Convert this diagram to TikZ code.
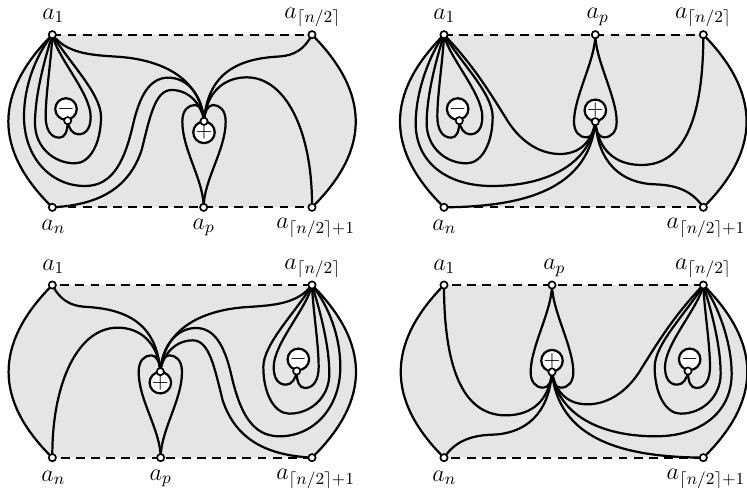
\RequirePackage{fix-cm}
\documentclass[tikz,border=0pt]{standalone}
\pgfdeclarelayer{bg}\pgfdeclarelayer{fillbg}
\pgfsetlayers{fillbg,bg,main}
\definecolor{regiongray}{HTML}{E3E5E7}
\tikzset{
  vtx/.style={circle,draw=black,fill=white,line width=0.9pt,minimum size=3.9pt,inner sep=0pt},
  bigc/.style={circle,draw=black,fill=white,line width=1.2pt,minimum size=11.6pt,inner sep=0pt},
  sign/.style={inner sep=0pt,font=\fontsize{12}{14}\selectfont},
  curve/.style={line width=1.2pt,black,line join=round},
  dashline/.style={line width=1.2pt,black,dash pattern=on 4.8pt off 3.4pt},
  lab/.style={inner sep=0pt,font=\fontsize{13}{15}\selectfont},
}
\newcommand\minusloops[2]{%
  \begin{scope}[shift={(#2,0)}]
    \node[bigc] (#1m) at (198,327) {};
    \node[sign] (#1ms) at (198,327) {$-$};
    \node[vtx] (#1mv) at (203,362) {};
  \end{scope}
  \begin{pgfonlayer}{bg}
  \begin{scope}[shift={(#2,0)}]
    \draw[curve] (#1a.center) .. controls (130,190) and (105,290) .. (105,370)
      .. controls (105,440) and (160,490) .. (225,490)
      .. controls (270,490) and (303,430) .. (303,350)
      .. controls (303,280) and (205,185) .. (#1a.center);
    \draw[curve] (#1a.center) .. controls (155,170) and (137,280) .. (137,350)
      .. controls (137,385) and (150,413) .. (178,413)
      .. controls (195,413) and (203,395) .. (#1mv.center);
    \draw[curve] (#1a.center) .. controls (170,170) and (272,280) .. (272,350)
      .. controls (272,385) and (258,403) .. (235,403)
      .. controls (218,403) and (205,385) .. (#1mv.center);
  \end{scope}
  \end{pgfonlayer}%
}
\newcommand\boundary[3]{%
  \begin{pgfonlayer}{fillbg}
    \fill[regiongray] (#1a.center) -- (#1t.center) .. controls (#3,280) and (#3,450) .. (#1r.center)
      -- (#1n.center) .. controls (#2,450) and (#2,280) .. (#1a.center);
  \end{pgfonlayer}
  \begin{pgfonlayer}{bg}
    \draw[curve] (#1t.center) .. controls (#3,280) and (#3,450) .. (#1r.center);
    \draw[curve] (#1n.center) .. controls (#2,450) and (#2,280) .. (#1a.center);
  \end{pgfonlayer}%
}
\newcommand\panelA[1]{%
  \node[vtx] (#1a) at (157,104) {};
  \node[vtx] (#1t) at (936,104) {};
  \node[vtx] (#1n) at (157,622) {};
  \node[vtx] (#1p) at (611,622) {};
  \node[vtx] (#1r) at (936,622) {};
  \node[bigc] (#1c) at (612,397) {};
  \node[sign] (#1cs) at (612,397) {$+$};
  \node[vtx] (#1j) at (612,364) {};
  \boundary{#1}{-19}{1111}
  \minusloops{#1}{0}
  \begin{pgfonlayer}{bg}
    \draw[dashline] (#1a.center) -- (#1t.center);
    \draw[dashline] (#1n.center) -- (#1p.center);
    \draw[dashline] (#1p.center) -- (#1r.center);
    \draw[curve] (#1a.center) .. controls (105,170) and (72,260) .. (72,350)
      .. controls (72,470) and (150,558) .. (255,558)
      .. controls (340,558) and (375,480) .. (400,370)
      .. controls (420,285) and (450,233) .. (505,233)
      .. controls (565,233) and (608,290) .. (#1j.center);
    \draw[curve] (#1n.center) .. controls (290,615) and (385,570) .. (425,450)
      .. controls (450,350) and (465,270) .. (515,270)
      .. controls (565,270) and (605,310) .. (#1j.center);
    \draw[curve] (#1a.center) .. controls (200,160) and (270,165) .. (350,170)
      .. controls (480,178) and (600,230) .. (#1j.center);
    \draw[curve] (#1t.center) .. controls (905,165) and (860,168) .. (830,170)
      .. controls (700,178) and (622,230) .. (#1j.center);
    \draw[curve] (#1r.center) .. controls (938,400) and (860,232) .. (740,232)
      .. controls (670,232) and (618,280) .. (#1j.center);
    \draw[curve] (#1p.center) .. controls (611,540) and (547,450) .. (547,365)
      .. controls (547,330) and (565,315) .. (585,315)
      .. controls (600,315) and (611,335) .. (#1j.center);
    \draw[curve] (#1p.center) .. controls (611,540) and (677,450) .. (677,365)
      .. controls (677,330) and (659,315) .. (639,315)
      .. controls (624,315) and (613,335) .. (#1j.center);
  \end{pgfonlayer}%
}
\newcommand\panelB[1]{%
  \node[vtx] (#1a) at (207,104) {};
  \node[vtx] (#1p) at (661,104) {};
  \node[vtx] (#1t) at (985,104) {};
  \node[vtx] (#1n) at (207,622) {};
  \node[vtx] (#1r) at (985,622) {};
  \node[bigc] (#1c) at (661,331) {};
  \node[sign] (#1cs) at (661,331) {$+$};
  \node[vtx] (#1j) at (661,365) {};
  \boundary{#1}{31}{1158}
  \minusloops{#1}{50}
  \begin{pgfonlayer}{bg}
    \draw[dashline] (#1a.center) -- (#1p.center);
    \draw[dashline] (#1p.center) -- (#1t.center);
    \draw[dashline] (#1n.center) -- (#1r.center);
    \draw[curve] (#1p.center) .. controls (661,180) and (597,290) .. (597,365)
      .. controls (597,395) and (612,412) .. (635,412)
      .. controls (650,412) and (661,395) .. (#1j.center);
    \draw[curve] (#1p.center) .. controls (661,180) and (725,290) .. (725,365)
      .. controls (725,395) and (710,412) .. (687,412)
      .. controls (672,412) and (661,395) .. (#1j.center);
    \draw[curve] (#1t.center) .. controls (985,300) and (950,495) .. (800,495)
      .. controls (720,495) and (670,450) .. (#1j.center);
    \draw[curve] (#1r.center) .. controls (950,570) and (900,555) .. (840,553)
      .. controls (740,550) and (670,490) .. (#1j.center);
    \draw[curve] (#1a.center) .. controls (290,190) and (340,270) .. (390,350)
      .. controls (430,420) and (490,462) .. (555,462)
      .. controls (610,462) and (650,430) .. (#1j.center);
    \draw[curve] (#1a.center) .. controls (160,170) and (122,280) .. (122,370)
      .. controls (122,490) and (220,558) .. (350,558)
      .. controls (520,558) and (645,490) .. (#1j.center);
    \draw[curve] (#1n.center) .. controls (400,620) and (640,590) .. (#1j.center);
  \end{pgfonlayer}%
}
\begin{document}
\begin{tikzpicture}[x=0.18pt,y=-0.18pt]
\useasboundingbox (0,0) rectangle (2241,1470);
\begin{scope}\panelA{A}\end{scope}
\begin{scope}[shift={(1125,0)}]\panelB{B}\end{scope}
\begin{scope}[shift={(1093,751)},xscale=-1]\panelA{C}\end{scope}
\begin{scope}[shift={(2317,751)},xscale=-1]\panelB{D}\end{scope}
\node[lab] (l1) at (160,47) {$a_1$};
\node[lab] (l2) at (938,52) {$a_{\lceil n/2\rceil}$};
\node[lab] (l3) at (160,680) {$a_n$};
\node[lab] (l4) at (611,682) {$a_p$};
\node[lab] (l5) at (947,684) {$a_{\lceil n/2\rceil+1}$};
\node[lab] (l6) at (1333,47) {$a_1$};
\node[lab] (l7) at (1793,50) {$a_p$};
\node[lab] (l8) at (2110,53) {$a_{\lceil n/2\rceil}$};
\node[lab] (l9) at (1333,680) {$a_n$};
\node[lab] (l10) at (2118,684) {$a_{\lceil n/2\rceil+1}$};
\node[lab] (l11) at (160,800) {$a_1$};
\node[lab] (l12) at (938,805) {$a_{\lceil n/2\rceil}$};
\node[lab] (l13) at (160,1433) {$a_n$};
\node[lab] (l14) at (482,1435) {$a_p$};
\node[lab] (l15) at (947,1437) {$a_{\lceil n/2\rceil+1}$};
\node[lab] (l16) at (1333,800) {$a_1$};
\node[lab] (l17) at (1663,803) {$a_p$};
\node[lab] (l18) at (2110,806) {$a_{\lceil n/2\rceil}$};
\node[lab] (l19) at (1333,1433) {$a_n$};
\node[lab] (l20) at (2118,1437) {$a_{\lceil n/2\rceil+1}$};
\end{tikzpicture}
\end{document}
